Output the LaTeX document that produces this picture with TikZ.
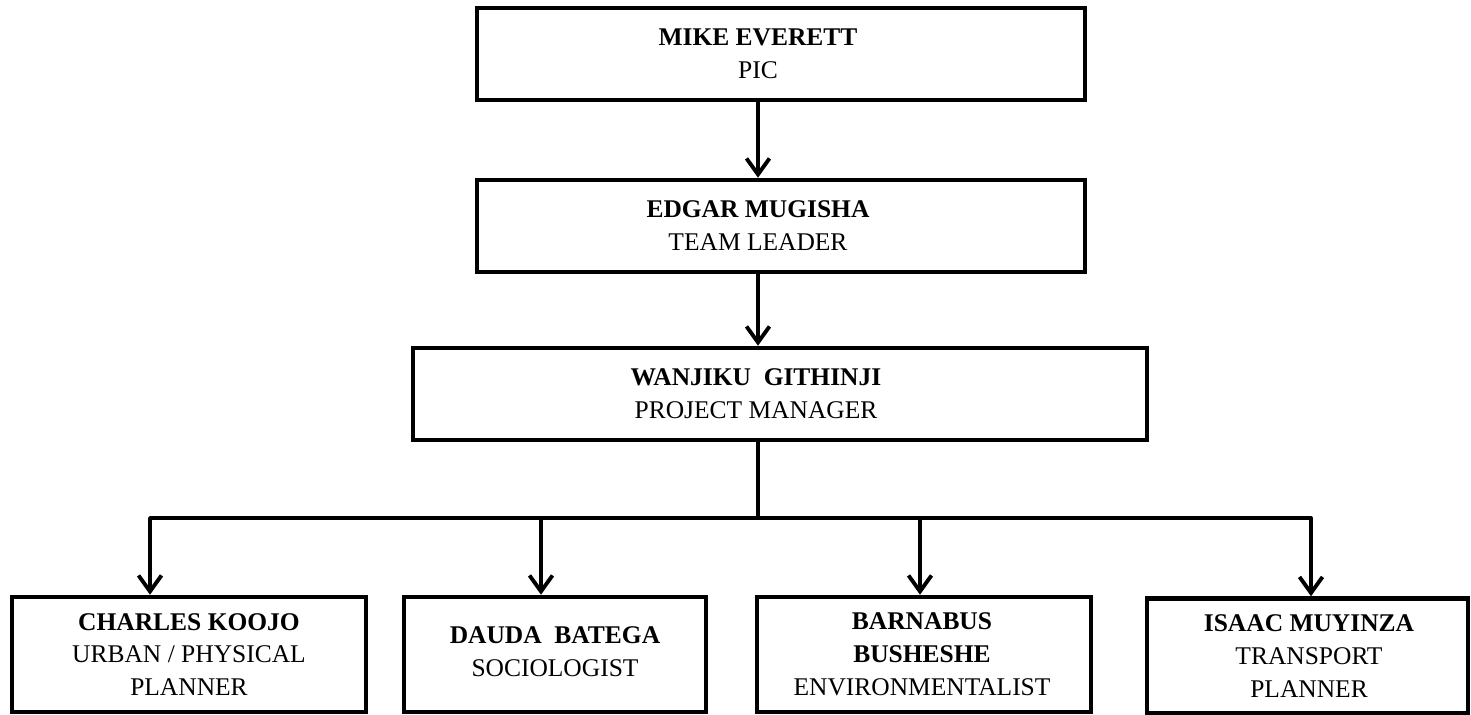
\documentclass[tikz,border=0pt]{standalone}
\usepackage{fontspec}
\setmainfont{Liberation Serif}
\usetikzlibrary{%
    arrows.meta,%
    positioning,%
    calc%
}
\tikzset{
    box/.style = {draw, rectangle, line width=2.6pt, inner sep=0pt},
    topbox/.style = {box, minimum width=12.16cm, minimum height=1.84cm},
    staffbox/.style = {box, minimum height=2.3cm},
    who/.style = {align=center, font=\fontsize{14.5pt}{18.7pt}\selectfont},
    conn/.style = {line width=2.2pt, line join=round},
    arr/.style = {conn, -{Straight Barb[length=3.2mm, width=4.6mm]}}
}

\begin{document}
\begin{tikzpicture}[x=0.02cm, y=-0.02cm]
    \useasboundingbox (0,0) rectangle (1471,714);
    % management chain
    \node[topbox] (mike) at (781,54) {};
    \node[who] (mike-t) at (758,54) {\textbf{MIKE EVERETT}\\PIC};
    \node[topbox] (edgar) at (781,226) {};
    \node[who] (edgar-t) at (758,226) {\textbf{EDGAR MUGISHA}\\TEAM LEADER};
    \node[box, minimum width=14.68cm, minimum height=1.84cm] (wanjiku) at (780,394) {};
    \node[who] (wanjiku-t) at (756,394) {\textbf{WANJIKU\enspace GITHINJI}\\PROJECT MANAGER};
    % staff
    \node[staffbox, minimum width=7.08cm] (charles) at (189,654.5) {};
    \node[who] (charles-t) at (189,654.5) {\textbf{CHARLES KOOJO}\\URBAN / PHYSICAL\\PLANNER};
    \node[staffbox, minimum width=6.04cm] (dauda) at (555,654.5) {};
    \node[who] (dauda-t) at (555,652) {\textbf{DAUDA\enspace BATEGA}\\SOCIOLOGIST};
    \node[staffbox, minimum width=6.68cm] (barnabus) at (924,654.5) {};
    \node[who] (barnabus-t) at (922,654.5) {\textbf{BARNABUS}\\\textbf{BUSHESHE}\\ENVIRONMENTALIST};
    \node[staffbox, minimum width=6.42cm] (isaac) at (1307.5,656) {};
    \node[who] (isaac-t) at (1309,656) {\textbf{ISAAC MUYINZA}\\TRANSPORT\\PLANNER};
    % connectors
    \coordinate (spine) at (758,518);
    \coordinate (dropA) at (150,518);
    \coordinate (dropB) at (541,518);
    \coordinate (dropC) at (920,518);
    \coordinate (dropD) at (1311,518);
    \draw[arr] (mike.south -| spine) -- (edgar.north -| spine);
    \draw[arr] (edgar.south -| spine) -- (wanjiku.north -| spine);
    \draw[conn] (wanjiku.south -| spine) -- (spine);
    \draw[arr] (spine) -- (dropA) -- (dropA |- charles.north);
    \draw[arr] (spine) -- (dropD) -- (dropD |- isaac.north);
    \draw[arr] (dropB) -- (dropB |- dauda.north);
    \draw[arr] (dropC) -- (dropC |- barnabus.north);
\end{tikzpicture}
\end{document}
